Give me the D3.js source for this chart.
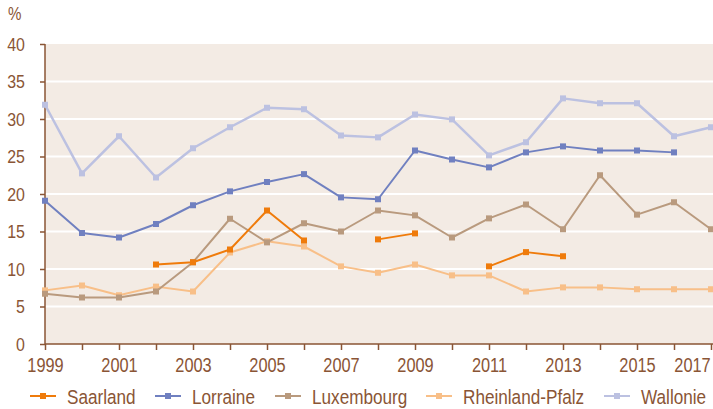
<!DOCTYPE html>
<html><head><meta charset="utf-8">
<script src="https://cdn.jsdelivr.net/npm/d3@7"></script>
<style>
html,body{margin:0;padding:0;background:#fff;}
svg{display:block;}
text{font-family:"Liberation Sans",Arial,sans-serif;fill:#8a5535;}
</style></head>
<body>
<svg id="c" width="713" height="409"></svg>
<script>
const years = d3.range(1999, 2018);
const yTicks = [0,5,10,15,20,25,30,35,40];
const xLabels = [1999,2001,2003,2005,2007,2009,2011,2013,2015,2017];
const seriesNames = ["Saarland","Lorraine","Luxembourg","Rheinland-Pfalz","Wallonie"];
const seriesColors = ["#ef7b0b","#7080c0","#b99a7e","#f8bf88","#bcc1e1"];
const saarland = [null,null,null,10.6,10.9,12.6,17.8,13.8,null,13.95,14.75,null,10.35,12.25,11.7,null,null,null,null];
const lorraine = [19.1,14.8,14.2,16.0,18.5,20.35,21.6,22.65,19.55,19.3,25.8,24.6,23.55,25.55,26.35,25.8,25.8,25.55,null];
const luxembourg = [6.7,6.2,6.2,7.0,10.9,16.7,13.55,16.1,15.0,17.8,17.15,14.2,16.75,18.6,15.3,22.5,17.25,18.9,15.3];
const rheinland = [7.15,7.8,6.5,7.65,7.0,12.2,13.7,13.0,10.35,9.5,10.6,9.15,9.15,7.0,7.55,7.55,7.3,7.3,7.3];
const wallonie = [31.9,22.75,27.7,22.2,26.1,28.9,31.5,31.3,27.8,27.55,30.6,29.95,25.15,26.9,32.75,32.1,32.1,27.7,28.9];
const seriesValues = [saarland,lorraine,luxembourg,rheinland,wallonie];
const legendX = [30,155,275,426,604];

const svg = d3.select("#c");
const x = d3.scaleLinear().domain([1999,2017]).range([45,711]);
const y = d3.scaleLinear().domain([0,40]).range([344,44]);

svg.append("rect").attr("x",45).attr("y",y(40)).attr("width",713-45).attr("height",y(0)-y(40)).attr("fill","#f3ebe4");

svg.append("g").selectAll("line").data(yTicks.filter(d=>d>0&&d<40)).join("line")
  .attr("x1",45).attr("x2",713).attr("y1",d=>y(d)).attr("y2",d=>y(d))
  .attr("stroke","#fff").attr("stroke-width",2);

// y axis
const ya = svg.append("g").attr("transform","translate(45,0)")
  .call(d3.axisLeft(y).tickValues(yTicks).tickSize(5).tickPadding(15).tickFormat(d3.format("d")));
ya.select(".domain").attr("stroke","#8a5535").attr("stroke-width",1.5).attr("d","M0,44V344");
ya.selectAll(".tick line").attr("stroke","#8a5535").attr("stroke-width",1.5);
ya.selectAll("text").attr("font-size",19).style("font-family",null);

// x axis
const xa = svg.append("g").attr("transform","translate(0,344)")
  .call(d3.axisBottom(x).tickValues(years).tickSize(6).tickPadding(8).tickFormat(d=>xLabels.includes(d)?String(d):""));
xa.select(".domain").attr("stroke","#8a5535").attr("stroke-width",1.5).attr("d","M45,0H713");
xa.selectAll(".tick line").attr("stroke","#8a5535").attr("stroke-width",1.5);
xa.selectAll("text").attr("font-size",19.5).style("font-family",null);
xa.selectAll(".tick").filter(d=>d===2017).select("text").attr("x",-19);

svg.append("text").attr("x",8).attr("y",20).attr("font-size",18).text("%");

const line = d3.line().defined(d=>d.v!=null).x(d=>x(d.yr)).y(d=>y(d.v));
const order = [4,3,2,1,0];
order.forEach(i=>{
  const data = years.map((yr,k)=>({yr, v:seriesValues[i][k]}));
  const g = svg.append("g");
  g.append("path").datum(data).attr("d",line).attr("fill","none")
    .attr("stroke",seriesColors[i]).attr("stroke-width",i===4?2.5:2).attr("stroke-linejoin","round");
  g.selectAll("rect").data(data.filter(d=>d.v!=null)).join("rect")
    .attr("x",d=>x(d.yr)-3).attr("y",d=>y(d.v)-3).attr("width",6).attr("height",6)
    .attr("fill",seriesColors[i]);
});

// legend
const lg = svg.append("g");
seriesNames.forEach((n,i)=>{
  const lx = legendX[i], ly = 396;
  lg.append("line").attr("x1",lx).attr("x2",lx+26).attr("y1",ly).attr("y2",ly).attr("stroke",seriesColors[i]).attr("stroke-width",2);
  lg.append("rect").attr("x",lx+10).attr("y",ly-3).attr("width",6).attr("height",6).attr("fill",seriesColors[i]);
  lg.append("text").attr("class","lgt").attr("x",lx+37).attr("y",404.5).attr("font-size",19.5).text(n);
});

// condense text horizontally around its anchor (narrow typeface look)
svg.selectAll("text").each(function(){
  const t = this; if(!t.textContent) return;
  const f = t.getAttribute("class")==="lgt" ? 0.88 : 0.84;
  const ax = +(t.getAttribute("x")||0);
  t.setAttribute("transform", `translate(${ax},0) scale(${f},1) translate(${-ax},0)`);
});
</script>
</body></html>
